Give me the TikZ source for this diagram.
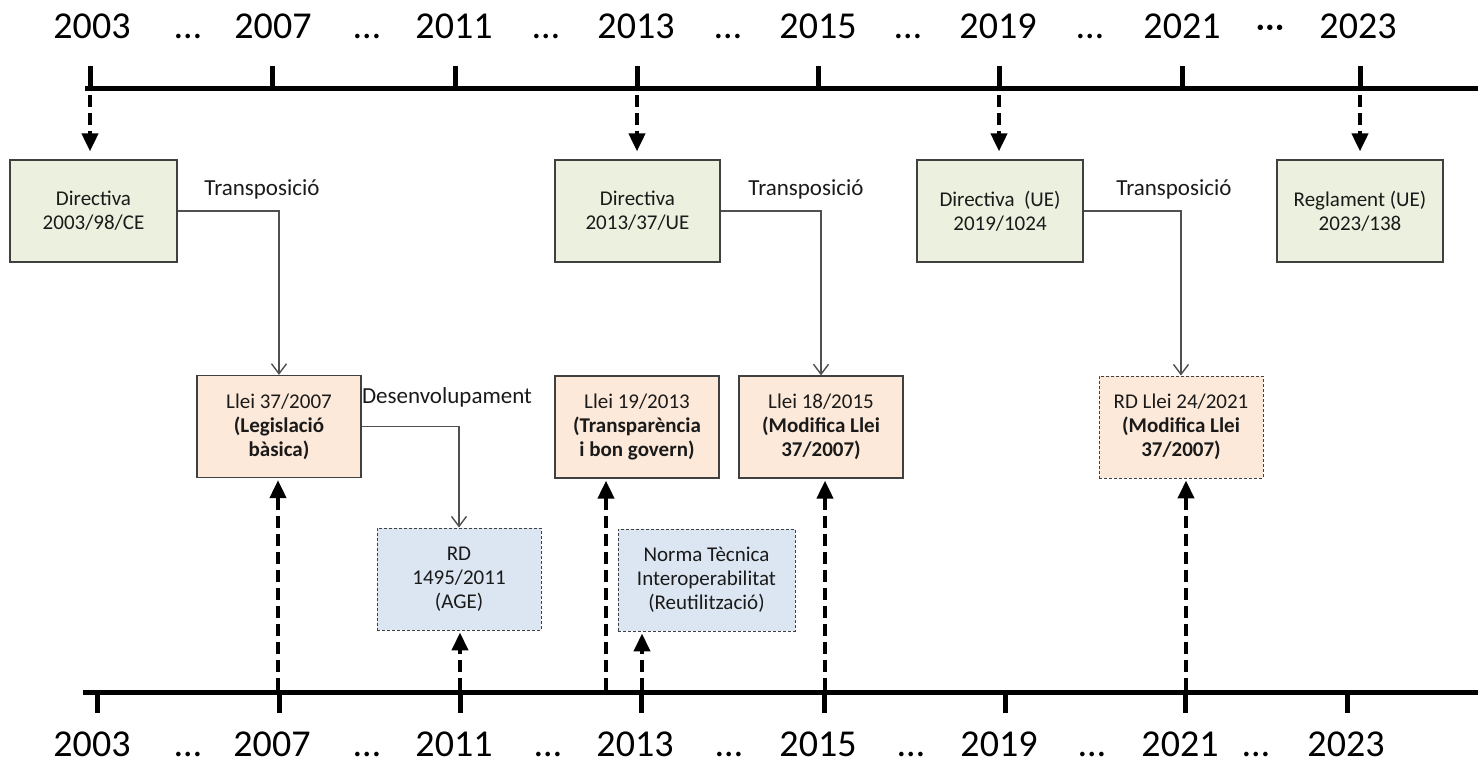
\documentclass[tikz,border=0pt]{standalone}
\usepackage{fontspec}
\setmainfont{Carlito}
\usetikzlibrary{arrows.meta}
\definecolor{grn}{HTML}{EBF1DE}
\definecolor{org}{HTML}{FDE9D9}
\definecolor{blu}{HTML}{DCE6F2}
\definecolor{bord}{HTML}{404040}
\definecolor{txt}{HTML}{1A1A1A}
\definecolor{conn}{HTML}{505050}
\begin{document}
\begin{tikzpicture}[x=1pt,y=-1pt,
  year/.style={font=\fontsize{38}{44}\selectfont, text=black, anchor=base, inner sep=0pt},
  lab/.style={font=\fontsize{23}{27}\selectfont, text=txt, anchor=base, inner sep=0pt},
  box/.style={draw=bord, line width=1.2pt, minimum height=102pt, align=center, inner sep=0pt, text=txt, font=\fontsize{21}{24}\selectfont},
  gbox/.style={box, fill=grn},
  obox/.style={box, fill=org},
  dbox/.style={line width=0.9pt, dash pattern=on 3pt off 2pt},
  bbox/.style={box, fill=blu, dbox},
  axis/.style={line width=5pt},
  darr/.style={line width=4pt, dash pattern=on 12pt off 6pt, -{Triangle[length=18pt,width=16pt]}},
  carr/.style={draw=conn, line width=1.4pt, -{Straight Barb[length=10pt,width=15pt]}},
]
\useasboundingbox (0,0) rectangle (1478,766);

% ---------- top timeline ----------
\draw[axis] (85,88) -- (1478,88);
\foreach \x in {90,272,455,637,818,999,1182,1360}
  \draw[axis] (\x,66) -- (\x,88);
\node[year] (y03t) at (92,38) {2003};
\node[year] (d1t) at (188,38) {…};
\node[year] (y07t) at (273,38) {2007};
\node[year] (d2t) at (367,38) {…};
\node[year] (y11t) at (454,38) {2011};
\node[year] (d3t) at (546,38) {…};
\node[year] (y13t) at (636,38) {2013};
\node[year] (d4t) at (728,38) {…};
\node[year] (y15t) at (818,38) {2015};
\node[year] (d5t) at (908,38) {…};
\node[year] (y19t) at (998,38) {2019};
\node[year] (d6t) at (1090,38) {…};
\node[year] (y21t) at (1182,38) {2021};
\node[year] (d7t) at (1270,38) {···};
\node[year] (y23t) at (1358,38) {2023};

% ---------- bottom timeline ----------
\draw[axis] (83,692) -- (1478,692);
\foreach \x in {97,279,460,641,824,1005,1185,1347}
  \draw[axis] (\x,692) -- (\x,713);
\node[year] (y03b) at (92,756) {2003};
\node[year] (d1b) at (188,756) {…};
\node[year] (y07b) at (272,756) {2007};
\node[year] (d2b) at (367,756) {…};
\node[year] (y11b) at (454,756) {2011};
\node[year] (d3b) at (548,756) {…};
\node[year] (y13b) at (635,756) {2013};
\node[year] (d4b) at (729,756) {…};
\node[year] (y15b) at (818,756) {2015};
\node[year] (d5b) at (911,756) {…};
\node[year] (y19b) at (999,756) {2019};
\node[year] (d6b) at (1092,756) {…};
\node[year] (y21b) at (1180,756) {2021};
\node[year] (d7b) at (1256,756) {…};
\node[year] (y23b) at (1346,756) {2023};

% ---------- top boxes ----------
\node[gbox, minimum width=167pt] (b1) at (93.5,211) {Directiva\\2003/98/CE};
\node[gbox, minimum width=165pt] (b2) at (637.5,211) {Directiva\\2013/37/UE};
\node[gbox, minimum width=166pt] (b3) at (1000,211) {Directiva\ \ (UE)\\2019/1024};
\node[gbox, minimum width=166pt] (b4) at (1360,211) {Reglament (UE)\\2023/138};

% ---------- middle boxes ----------
\node[obox, minimum width=164pt] (l37) at (279,426.5) {Llei 37/2007\\\textbf{(Legislació}\\\textbf{bàsica)}};
\node[obox, minimum width=164pt] (l19) at (637,427) {Llei 19/2013\\\textbf{(Transparència}\\\textbf{i bon govern)}};
\node[obox, minimum width=164pt] (l18) at (821,427) {Llei 18/2015\\\textbf{(Modifica Llei}\\\textbf{37/2007)}};
\node[obox, dbox, minimum width=164pt] (rdl) at (1181,427) {RD Llei 24/2021\\\textbf{(Modifica Llei}\\\textbf{37/2007)}};

% ---------- lower boxes ----------
\node[bbox, minimum width=164pt] (rd) at (459,579) {RD\\1495/2011\\(AGE)};
\node[bbox, minimum width=177pt] (nt) at (706.5,580) {Norma Tècnica\\Interoperabilitat\\(Reutilització)};

% ---------- labels ----------
\node[lab] (tr1) at (262,195) {Transposició};
\node[lab] (tr2) at (806,195) {Transposició};
\node[lab] (tr3) at (1174,195) {Transposició};
\node[lab] (dev) at (447,403) {Desenvolupament};

% ---------- connectors ----------
\draw[carr] (b1.east) -| (l37.north);
\draw[carr] (b2.east) -| (l18.north);
\draw[carr] (b3.east) -| (rdl.north);
\draw[carr] (l37.east) -| (rd.north);

% ---------- top dashed arrows ----------
\coordinate (a03) at (90,95);
\coordinate (a13) at (637,95);
\coordinate (a19) at (999,95);
\coordinate (a23) at (1360,95);
\draw[darr, shorten >=8pt] (a03) -- (b1.north -| a03);
\draw[darr, shorten >=8pt] (a13) -- (b2.north -| a13);
\draw[darr, shorten >=8pt] (a19) -- (b3.north -| a19);
\draw[darr, shorten >=8pt] (a23) -- (b4.north -| a23);

% ---------- bottom dashed arrows ----------
\coordinate (c07) at (278,690);
\coordinate (c11) at (460,690);
\coordinate (c13a) at (606,690);
\coordinate (c13b) at (642,690);
\coordinate (c15) at (825,690);
\coordinate (c21) at (1186,690);
\draw[darr, shorten >=2pt] (c07) -- (l37.south -| c07);
\draw[darr, shorten >=2pt] (c11) -- (rd.south -| c11);
\draw[darr, shorten >=2pt] (c13a) -- (l19.south -| c13a);
\draw[darr, shorten >=2pt] (c13b) -- (nt.south -| c13b);
\draw[darr, shorten >=2pt] (c15) -- (l18.south -| c15);
\draw[darr, shorten >=2pt] (c21) -- (rdl.south -| c21);
\end{tikzpicture}
\end{document}
